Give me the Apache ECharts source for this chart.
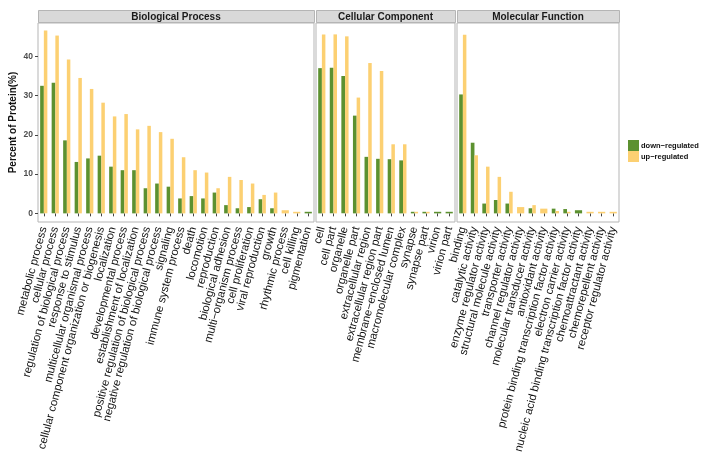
<!DOCTYPE html>
<html>
<head>
<meta charset="UTF-8">
<title></title>
<style>
	body { margin: 0; background: #fff; }
	#chart { width: 717px; height: 463px; }
</style>
</head>
<body>
<div id="chart"></div>
<script src="https://cdn.jsdelivr.net/npm/echarts@6.0.0/dist/echarts.min.js"></script>
<script>
	// GO level-2 terms, percent of proteins
	var bpCats = ['metabolic process', 'cellular process', 'regulation of biological process', 'response to stimulus',
		'multicellular organismal process', 'cellular component organization or biogenesis', 'localization',
		'developmental process', 'establishment of localization', 'positive regulation of biological process',
		'negative regulation of biological process', 'signaling', 'immune system process', 'death', 'locomotion',
		'reproduction', 'biological adhesion', 'multi\u2212organism process', 'cell proliferation', 'viral reproduction',
		'growth', 'rhythmic process', 'cell killing', 'pigmentation'];
	var bpDown = [32.5, 33.3, 18.6, 13.1, 14.0, 14.7, 11.9, 11.0, 11.0, 6.4, 7.6, 6.8, 3.8, 4.4, 3.8, 5.3, 2.1, 1.3, 1.6, 3.6, 1.3, null, null, 0.4];
	var bpUp = [46.6, 45.3, 39.2, 34.5, 31.7, 28.2, 24.7, 25.3, 21.4, 22.3, 20.7, 19.0, 14.3, 11.0, 10.4, 6.4, 9.3, 8.5, 7.6, 4.7, 5.3, 0.8, 0.4, null];

	var ccCats = ['cell', 'cell part', 'organelle', 'organelle part', 'extracellular region', 'extracellular region part',
		'membrane\u2212enclosed lumen', 'macromolecular complex', 'synapse', 'synapse part', 'virion', 'virion part'];
	var ccDown = [37.0, 37.1, 35.0, 24.9, 14.4, 13.9, 13.8, 13.5, 0.4, 0.4, 0.4, 0.4];
	var ccUp = [45.6, 45.6, 45.1, 29.5, 38.3, 36.3, 17.6, 17.6, 0.4, 0.4, null, null];

	var mfCats = ['binding', 'catalytic activity', 'enzyme regulator activity', 'structural molecule activity',
		'transporter activity', 'channel regulator activity', 'molecular transducer activity', 'antioxidant activity',
		'protein binding transcription factor activity', 'electron carrier activity',
		'nucleic acid binding transcription factor activity', 'chemoattractant activity', 'chemorepellent activity',
		'receptor regulator activity'];
	var mfDown = [30.3, 18.0, 2.5, 3.4, 2.5, null, 1.3, null, 1.2, 1.1, 0.8, null, null, null];
	var mfUp = [45.5, 14.8, 11.9, 9.3, 5.5, 1.6, 2.1, 1.2, 0.6, 0.4, null, 0.4, 0.4, 0.4];

	var yTicks = [0, 10, 20, 30, 40];

	var colDown = '#5c9130', colUp = '#fcd072';
	var nameDown = 'down\u2212regulated', nameUp = 'up\u2212regulated';
	var font = "'Liberation Sans', Arial, sans-serif";
	var frame = '#b5b5b5';

	// ggplot dodge: a term with only one group gets the full width
	function paired(a, b) {
		return a.map(function (v, i) { return (v != null && b[i] != null) ? v : null; });
	}
	function single(a, b) {
		return a.map(function (v, i) { return (v != null && b[i] == null) ? v : null; });
	}

	var panels = [
		{ title: 'Biological Process', cats: bpCats, down: bpDown, up: bpUp, left: 38, width: 276 },
		{ title: 'Cellular Component', cats: ccCats, down: ccDown, up: ccUp, left: 316, width: 139 },
		{ title: 'Molecular Function', cats: mfCats, down: mfDown, up: mfUp, left: 457, width: 162 }
	];
	var panelTop = 23, panelHeight = 199;

	var grid = [], xAxis = [], yAxis = [], series = [], graphic = [];
	panels.forEach(function (p, i) {
		grid.push({ left: p.left, top: panelTop, width: p.width, height: panelHeight, show: true,
			borderColor: frame, borderWidth: 1, backgroundColor: '#fff' });
		xAxis.push({
			type: 'category', gridIndex: i, data: p.cats,
			axisLine: { show: false },
			axisTick: { show: true, alignWithLabel: true, length: 3, lineStyle: { color: '#444' } },
			axisLabel: { interval: 0, rotate: 75, margin: 5, fontSize: 11.3, color: '#111', fontFamily: font }
		});
		xAxis.push({ type: 'category', gridIndex: i, data: p.cats, show: false });
		yAxis.push({
			type: 'value', gridIndex: i, min: -2.2, max: 48.5, show: i === 0,
			name: i === 0 ? 'Percent of Protein(%)' : '', nameLocation: 'middle', nameGap: 20,
			nameTextStyle: { fontSize: 10, fontWeight: 'bold', color: '#111', fontFamily: font },
			splitLine: { show: false },
			axisLine: { show: false },
			axisTick: { show: true, length: 3, customValues: yTicks, lineStyle: { color: '#444' } },
			axisLabel: { customValues: yTicks, margin: 5, fontSize: 8.5, fontWeight: 'bold', color: '#4d4d4d', fontFamily: font }
		});
		series.push(
			{ name: nameDown, type: 'bar', xAxisIndex: 2 * i, yAxisIndex: i, data: paired(p.down, p.up),
				barWidth: 3.7, barGap: '0%', itemStyle: { color: colDown } },
			{ name: nameUp, type: 'bar', xAxisIndex: 2 * i, yAxisIndex: i, data: paired(p.up, p.down),
				barWidth: 3.5, barGap: '0%', itemStyle: { color: colUp } },
			{ name: nameDown, type: 'bar', xAxisIndex: 2 * i + 1, yAxisIndex: i, data: single(p.down, p.up),
				barWidth: 7.2, barGap: '-100%', itemStyle: { color: colDown } },
			{ name: nameUp, type: 'bar', xAxisIndex: 2 * i + 1, yAxisIndex: i, data: single(p.up, p.down),
				barWidth: 7.2, barGap: '-100%', itemStyle: { color: colUp } }
		);
		// facet strip
		graphic.push({
			type: 'rect', shape: { x: p.left + 0.5, y: 10.5, width: p.width, height: 12 },
			style: { fill: '#d9d9d9', stroke: frame, lineWidth: 1 }
		}, {
			type: 'text', x: p.left + p.width / 2, y: 17,
			style: { text: p.title, align: 'center', verticalAlign: 'middle', font: 'bold 10px ' + font, fill: '#1a1a1a' }
		});
	});

	var chart = echarts.init(document.getElementById('chart'));
	chart.setOption({
		animation: false,
		grid: grid,
		xAxis: xAxis,
		yAxis: yAxis,
		legend: {
			data: [nameDown, nameUp], orient: 'vertical', left: 628, top: 140, padding: 0,
			itemWidth: 11, itemHeight: 11, itemGap: 0, icon: 'rect', selectedMode: false,
			textStyle: { fontSize: 7.5, fontWeight: 'bold', color: '#111', fontFamily: font, padding: [0, 0, 0, -3] }
		},
		series: series,
		graphic: graphic
	});
</script>
</body>
</html>
